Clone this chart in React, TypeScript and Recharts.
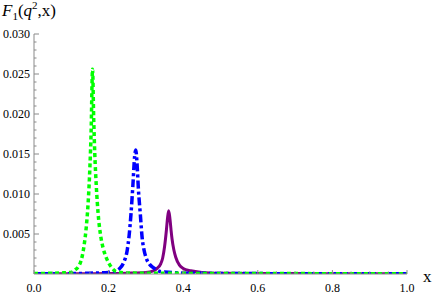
import * as React from "react";
import { Line, LineChart, XAxis, YAxis } from "recharts";

// Lorentz-like peaks
const greenX = [0, 0.05, 0.08, 0.1, 0.11, 0.12, 0.125, 0.13, 0.135, 0.14, 0.145, 0.15, 0.153, 0.157, 0.16, 0.163, 0.167, 0.172, 0.178, 0.185, 0.19, 0.2, 0.21, 0.22, 0.25, 0.3, 0.4, 0.5, 0.6, 0.7, 0.8, 0.9, 1.0];
const greenY = [0.00005, 0.0001, 0.00015, 0.0002, 0.0005, 0.001, 0.0015, 0.0024, 0.0038, 0.0058, 0.0088, 0.0135, 0.0175, 0.0256, 0.0195, 0.015, 0.011, 0.0075, 0.005, 0.0033, 0.0025, 0.0014, 0.0007, 0.0003, 0.00012, 0.0001, 0.00008, 0.00006, 0.00005, 0.00005, 0.00004, 0.00004, 0.00004];

const blueX = [0, 0.1, 0.15, 0.2, 0.215, 0.23, 0.24, 0.25, 0.255, 0.26, 0.265, 0.27, 0.273, 0.276, 0.28, 0.285, 0.29, 0.295, 0.3, 0.31, 0.32, 0.34, 0.37, 0.4, 0.5, 0.6, 0.7, 0.8, 0.9, 1.0];
const blueY = [0.00003, 0.00005, 0.0001, 0.0002, 0.0003, 0.0007, 0.0014, 0.003, 0.0048, 0.0075, 0.011, 0.0148, 0.0155, 0.014, 0.0105, 0.0075, 0.0045, 0.003, 0.0021, 0.0012, 0.0008, 0.0003, 0.0002, 0.0001, 0.00007, 0.00005, 0.00004, 0.00004, 0.00003, 0.00003];

const purpleX = [0, 0.1, 0.2, 0.25, 0.3, 0.32, 0.33, 0.34, 0.345, 0.35, 0.355, 0.358, 0.361, 0.364, 0.367, 0.37, 0.375, 0.38, 0.39, 0.4, 0.42, 0.45, 0.5, 0.6, 0.7, 0.8, 0.9, 1.0];
const purpleY = [0.00002, 0.00003, 0.00005, 0.0001, 0.0002, 0.0004, 0.0007, 0.0013, 0.002, 0.0034, 0.0055, 0.007, 0.0079, 0.0071, 0.0057, 0.0044, 0.003, 0.0021, 0.0011, 0.0007, 0.0004, 0.0002, 0.0001, 0.00006, 0.00005, 0.00004, 0.00003, 0.00003];

const xMajor = [0, 0.2, 0.4, 0.6, 0.8, 1.0];
const xLabels = ["0.0", "0.2", "0.4", "0.6", "0.8", "1.0"];
const yMajor = [0.005, 0.01, 0.015, 0.02, 0.025, 0.03];
const yLabels = ["0.005", "0.010", "0.015", "0.020", "0.025", "0.030"];

const xTicks = Array.from({ length: 21 }, (_, i) => Math.round(i * 5) / 100);
const yTicks = Array.from({ length: 30 }, (_, i) => Math.round((i + 1) * 10) / 10000);

const zip = (xs: number[], ys: number[]) => xs.map((x, i) => ({ x, y: ys[i] }));
const green = zip(greenX, greenY);
const blue = zip(blueX, blueY);
const purple = zip(purpleX, purpleY);

const AXIS = "#8a8a8a";
const serif: React.CSSProperties = { fontFamily: '"Liberation Serif", serif' };
const MARGIN = 4;

const findIdx = (arr: number[], v: number) => arr.findIndex((m) => Math.abs(m - v) < 1e-9);

function XTick(props: any) {
  const { x, y, payload } = props;
  const ay = y - MARGIN;
  const i = findIdx(xMajor, payload.value);
  return (
    <g>
      <line x1={x} x2={x} y1={ay} y2={ay - (i >= 0 ? 4 : 2.5)} stroke={AXIS} strokeWidth={1} />
      {i >= 0 && (
        <text x={x} y={ay + 18} textAnchor="middle" fontSize={12} style={serif} fill="#000">
          {xLabels[i]}
        </text>
      )}
    </g>
  );
}

function YTick(props: any) {
  const { x, y, payload } = props;
  const ax = x + MARGIN;
  const i = findIdx(yMajor, payload.value);
  return (
    <g>
      <line x1={ax} x2={ax + (i >= 0 ? 5 : 2.5)} y1={y} y2={y} stroke={AXIS} strokeWidth={1} />
      {i >= 0 && (
        <text x={ax - 4} y={y + 4} textAnchor="end" fontSize={12} style={serif} fill="#000">
          {yLabels[i]}
        </text>
      )}
    </g>
  );
}

export default function App() {
  return (
    <div style={{ position: "absolute", left: 0, top: 0, width: 436, height: 294, background: "#fff" }}>
      <LineChart width={436} height={294} margin={{ top: 34, right: 29, left: 0, bottom: 0 }}>
        <XAxis
          dataKey="x"
          type="number"
          domain={[0, 1]}
          ticks={xTicks}
          interval={0}
          tickSize={0}
          tickMargin={MARGIN}
          tick={<XTick />}
          height={20}
          stroke={AXIS}
          allowDataOverflow
        />
        <YAxis
          type="number"
          domain={[0, 0.03]}
          ticks={yTicks}
          interval={0}
          tickSize={0}
          tickMargin={MARGIN}
          tick={<YTick />}
          width={34}
          stroke={AXIS}
          allowDataOverflow
        />
        <Line data={purple} dataKey="y" type="monotone" stroke="#800080" strokeWidth={3} dot={false} isAnimationActive={false} />
        <Line data={blue} dataKey="y" type="monotone" stroke="#0000ff" strokeWidth={3.5} strokeDasharray="8 3 3 3" dot={false} isAnimationActive={false} />
        <Line data={green} dataKey="y" type="monotone" stroke="#00ff00" strokeWidth={3.5} strokeDasharray="4 3" dot={false} isAnimationActive={false} />
        <text x={2} y={16} fontSize={17} style={serif} fill="#000">
          <tspan fontStyle="italic">F</tspan>
          <tspan fontSize={11} dy={4}>1</tspan>
          <tspan dy={-4}>(</tspan>
          <tspan fontStyle="italic">q</tspan>
          <tspan fontSize={11} dy={-7}>2</tspan>
          <tspan dy={7}>,x)</tspan>
        </text>
        <text x={423} y={282} fontSize={17} style={serif} fill="#000">
          x
        </text>
      </LineChart>
    </div>
  );
}
